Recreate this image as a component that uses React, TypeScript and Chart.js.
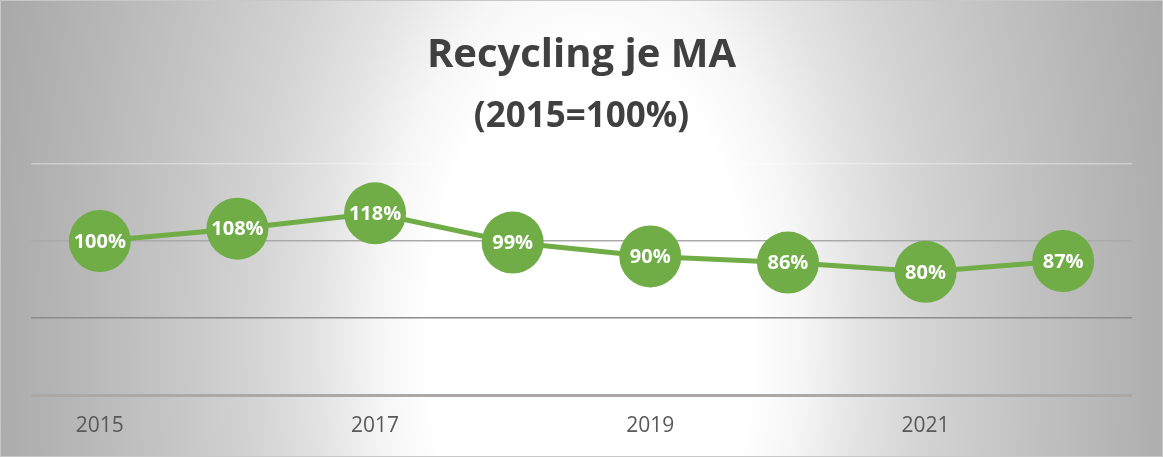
import React, { useEffect, useRef } from "react";
import { Chart, registerables } from "chart.js";

Chart.register(...registerables);

const categories = ["2015", "2016", "2017", "2018", "2019", "2020", "2021", "2022"];
const values = [100, 108, 118, 99, 90, 86, 80, 87];
const titleLines = ["Recycling je MA", "(2015=100%)"];
const GREEN = "#70AD47";

const bgPlugin = {
  id: "bgPlugin",
  beforeDraw(chart: any) {
    const { ctx, width, height } = chart;
    ctx.save();
    const cx = 590;
    const cy = 340;
    const sy = 1.8;
    ctx.translate(cx, cy);
    ctx.scale(1, sy);
    const g = ctx.createRadialGradient(0, 0, 0, 0, 0, 620);
    g.addColorStop(0, "#ffffff");
    g.addColorStop(0.26, "#ffffff");
    g.addColorStop(0.34, "#f6f6f6");
    g.addColorStop(0.44, "#e3e3e3");
    g.addColorStop(0.55, "#d3d3d3");
    g.addColorStop(0.7, "#c3c3c3");
    g.addColorStop(0.85, "#b5b5b5");
    g.addColorStop(1, "#a8a8a8");
    ctx.fillStyle = g;
    ctx.fillRect(-cx, -cy / sy, width, height / sy + 10);
    ctx.restore();
    ctx.save();
    ctx.strokeStyle = "#c8c8c8";
    ctx.lineWidth = 1;
    ctx.strokeRect(0.5, 0.5, width - 1, height - 1);
    ctx.fillStyle = "#404040";
    ctx.textAlign = "center";
    ctx.textBaseline = "alphabetic";
    ctx.font = "bold 40px 'Open Sans'";
    ctx.fillText(titleLines[0], width / 2, 67);
    ctx.font = "bold 35px 'Open Sans'";
    ctx.fillText(titleLines[1], width / 2, 127);
    ctx.restore();
  },
};

const labelPlugin = {
  id: "labelPlugin",
  afterDatasetsDraw(chart: any) {
    const { ctx } = chart;
    const meta = chart.getDatasetMeta(0);
    ctx.save();
    ctx.fillStyle = "#ffffff";
    ctx.font = "bold 20px 'Open Sans'";
    ctx.textAlign = "center";
    ctx.textBaseline = "middle";
    meta.data.forEach((pt: any, i: number) => {
      ctx.fillText(values[i] + "%", pt.x, pt.y + 1);
    });
    ctx.restore();
  },
};

export default function App() {
  const ref = useRef<HTMLCanvasElement>(null);
  useEffect(() => {
    if (!ref.current) return;
    const chart = new Chart(ref.current, {
      type: "line",
      data: {
        labels: categories,
        datasets: [
          {
            data: values,
            borderColor: GREEN,
            borderWidth: 5,
            backgroundColor: GREEN,
            pointBackgroundColor: GREEN,
            pointBorderWidth: 0,
            pointRadius: 31,
            pointHoverRadius: 31,
            tension: 0,
            fill: false,
          },
        ],
      },
      options: {
        animation: false,
        responsive: false,
        maintainAspectRatio: false,
        layout: { padding: { left: 31, right: 30, top: 164, bottom: 20 } },
        plugins: {
          legend: { display: false },
          title: { display: false },
          tooltip: { enabled: false },
        },
        scales: {
          x: {
            offset: true,
            border: { display: false },
            grid: { display: false, drawTicks: false },
            afterFit: (s: any) => {
              s.height = 42;
            },
            ticks: {
              autoSkip: false,
              maxRotation: 0,
              padding: 18,
              color: "#595959",
              font: { family: "'Open Sans'", size: 21 },
              callback: (_v: any, i: number) => (i % 2 === 0 ? categories[i] : ""),
            },
          },
          y: {
            min: 0,
            max: 150,
            border: { display: false },
            ticks: { display: false, stepSize: 50 },
            afterFit: (s: any) => {
              s.width = 0;
            },
            grid: {
              drawTicks: false,
              color: (c: any) => {
                const v = c.tick ? c.tick.value : 0;
                if (v === 150) return "rgba(255,255,255,0.35)";
                if (v === 100) return "#a9a9a9";
                if (v === 50) return "#8c8c8c";
                return "#aca8a5";
              },
              lineWidth: (c: any) => {
                const v = c.tick ? c.tick.value : 0;
                if (v === 0) return 3;
                return 1.5;
              },
            },
          },
        },
      },
      plugins: [bgPlugin, labelPlugin],
    });
    return () => chart.destroy();
  }, []);
  return (
    <div style={{ position: "fixed", left: 0, top: 0, width: 1163, height: 457 }}>
      <canvas ref={ref} width={1163} height={457} style={{ display: "block" }} />
    </div>
  );
}
